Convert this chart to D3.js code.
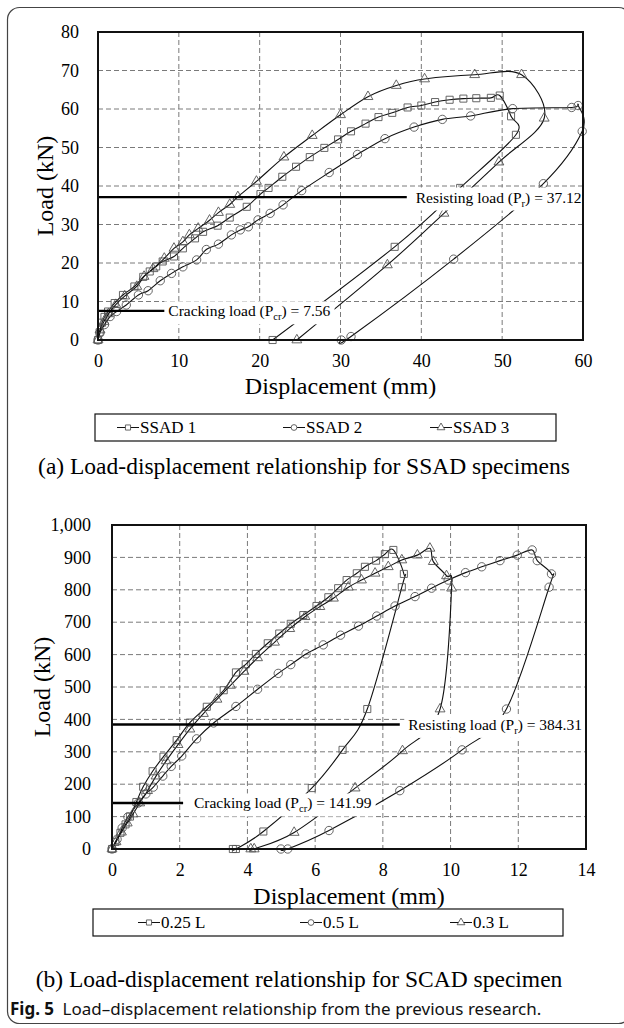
<!DOCTYPE html>
<html><head><meta charset="utf-8">
<script src="https://cdn.jsdelivr.net/npm/d3@7"></script>
<style>
body{margin:0;background:#fff;}
</style></head><body>
<svg id="fig" width="624" height="1028"></svg>
<script>
// ---------- (a) SSAD specimens ----------
const ssadXTicks = [0, 10, 20, 30, 40, 50, 60];
const ssadYTicks = [0, 10, 20, 30, 40, 50, 60, 70, 80];
const ssadNames = ["SSAD 1", "SSAD 2", "SSAD 3"];

const ssad1Disp = [0, 0.2, 0.5, 0.8, 1.24, 2.06, 3.09, 4.5, 5.6, 6.4, 7.2, 8.0, 9.4, 10.5, 12.0, 13.0, 14.8, 16.3, 18.4, 20.1, 21.1, 22.8, 24.5, 26.2, 28.0, 29.7, 31.3, 33.1, 34.7, 36.4, 38.3, 40.0, 41.7, 43.5, 45.2, 46.8, 48.6, 49.7, 51.1, 51.7, 44.8, 36.7, 21.6];
const ssad1Load = [0, 2.0, 4.5, 6.0, 7.4, 9.6, 11.7, 13.9, 16.4, 17.8, 19.1, 20.4, 21.7, 23.8, 26.4, 28.1, 29.7, 31.8, 34.6, 37.9, 39.5, 42.4, 45.0, 47.5, 49.9, 52.1, 54.2, 56.2, 57.9, 59.0, 60.4, 60.9, 61.8, 62.4, 62.7, 62.8, 62.9, 63.5, 58.1, 53.3, 39.5, 24.2, 0];

const ssad2Disp = [0, 0.25, 0.8, 1.5, 2.3, 3.5, 5.0, 6.2, 7.7, 9.1, 10.5, 12.2, 13.4, 14.9, 16.5, 17.6, 18.6, 19.8, 21.3, 22.9, 25.2, 28.6, 32.1, 35.5, 39.1, 42.6, 46.1, 51.3, 58.6, 59.4, 59.9, 55.1, 44.0, 31.3, 30.1];
const ssad2Load = [0, 1.9, 4.0, 6.1, 7.4, 9.1, 11.7, 12.8, 15.4, 17.3, 19.0, 20.8, 23.5, 24.9, 27.3, 28.6, 29.4, 31.2, 32.9, 35.1, 38.8, 43.5, 48.2, 52.3, 55.3, 57.3, 58.2, 60.1, 60.4, 60.9, 54.2, 40.6, 21.0, 0.9, 0];

const ssad3Disp = [0, 0.25, 0.74, 1.3, 2.2, 3.3, 4.8, 5.7, 6.8, 8.2, 9.4, 10.5, 11.3, 12.4, 13.8, 14.9, 16.3, 17.3, 19.6, 23.0, 26.5, 30.0, 33.4, 36.9, 40.4, 46.6, 52.4, 55.2, 49.6, 42.8, 35.8, 24.6];
const ssad3Load = [0, 2.6, 4.8, 6.8, 9.2, 11.4, 13.9, 16.5, 18.5, 21.2, 23.8, 25.5, 27.3, 29.0, 31.1, 33.1, 35.2, 37.2, 41.2, 47.5, 53.1, 58.5, 63.2, 66.1, 67.8, 68.9, 68.9, 57.6, 46.2, 32.9, 19.5, 0];

const ssadCracking = 7.56;
const ssadResisting = 37.12;

// ---------- (b) SCAD specimen ----------
const scadXTicks = [0, 2, 4, 6, 8, 10, 12, 14];
const scadYTicks = [0, 100, 200, 300, 400, 500, 600, 700, 800, 900, 1000];
const scadNames = ["0.25 L", "0.5 L", "0.3 L"];

const scad25Disp = [0, 0.1, 0.25, 0.4, 0.53, 0.72, 0.92, 1.2, 1.52, 1.91, 2.3, 2.8, 3.3, 3.66, 3.95, 4.25, 4.6, 4.94, 5.28, 5.65, 6.04, 6.39, 6.68, 6.93, 7.23, 7.47, 7.8, 8.06, 8.31, 8.62, 8.56, 7.54, 6.81, 5.9, 4.47, 3.66, 3.57];
const scad25Load = [0, 22, 50, 76, 100, 145, 192, 240, 285, 336, 390, 439, 490, 545, 570, 602, 635, 665, 695, 722, 750, 777, 805, 830, 851, 871, 890, 910, 923, 849, 808, 432, 306, 188, 54, 0, 0];

const scad50Disp = [0, 0.15, 0.3, 0.47, 0.78, 1.0, 1.22, 1.5, 1.75, 2.06, 2.5, 3.0, 3.66, 4.3, 4.91, 5.28, 5.73, 6.24, 6.75, 7.28, 7.82, 8.36, 8.95, 9.44, 9.93, 10.44, 10.92, 11.46, 11.97, 12.41, 12.56, 12.98, 12.91, 11.65, 10.34, 8.5, 6.41, 5.19, 4.99];
const scad50Load = [0, 30, 65, 99, 142, 170, 191, 225, 255, 287, 340, 389, 440, 493, 542, 569, 602, 630, 660, 688, 719, 750, 779, 805, 830, 853, 871, 890, 907, 923, 890, 849, 808, 432, 306, 180, 57, 0, 0];

const scad30Disp = [0, 0.12, 0.28, 0.45, 0.62, 0.82, 1.05, 1.3, 1.6, 1.95, 2.3, 2.7, 3.1, 3.5, 3.9, 4.3, 4.8, 5.25, 5.7, 6.14, 6.54, 6.98, 7.37, 7.77, 8.16, 8.56, 9.02, 9.39, 9.49, 9.88, 10.03, 9.69, 8.58, 7.18, 5.38, 4.2, 4.1];
const scad30Load = [0, 22, 52, 80, 108, 142, 180, 225, 272, 322, 370, 418, 462, 505, 548, 590, 638, 680, 717, 748, 774, 808, 830, 851, 871, 892, 907, 928, 887, 843, 805, 432, 303, 188, 51, 0, 0];

const scadCracking = 141.99;
const scadResisting = 384.31;

// ---------- drawing ----------
const SERIF = "'Liberation Serif', 'Times New Roman', serif";
const SANS = "'Noto Sans', 'DejaVu Sans', sans-serif";

const svg = d3.select("#fig");
svg.append("rect").attr("width", 624).attr("height", 1028).attr("fill", "#fff");

// figure frame (rounded, runs off the right edge)
svg.append("rect")
  .attr("x", 7.5).attr("y", 7.5).attr("width", 623).attr("height", 1016)
  .attr("rx", 12).attr("ry", 12)
  .attr("fill", "none").attr("stroke", "#444").attr("stroke-width", 1.2);

function serifText(sel, size) {
  return sel.style("font-family", SERIF).attr("font-size", size).attr("fill", "#000");
}

function drawPanel(cfg) {
  const b = cfg.box;
  const x = d3.scaleLinear().domain([cfg.xTicks[0], cfg.xTicks[cfg.xTicks.length - 1]]).range([b.left, b.right]);
  const y = d3.scaleLinear().domain([cfg.yTicks[0], cfg.yTicks[cfg.yTicks.length - 1]]).range([b.bottom, b.top]);
  const g = svg.append("g");

  // dashed grid
  g.append("g").selectAll("line").data(cfg.xTicks.slice(1, -1)).join("line")
    .attr("x1", d => x(d)).attr("x2", d => x(d)).attr("y1", b.top).attr("y2", b.bottom)
    .attr("stroke", "#7a7a7a").attr("stroke-width", 1).attr("stroke-dasharray", "5,3");
  g.append("g").selectAll("line").data(cfg.yTicks.slice(1, -1)).join("line")
    .attr("y1", d => y(d)).attr("y2", d => y(d)).attr("x1", b.left).attr("x2", b.right)
    .attr("stroke", "#7a7a7a").attr("stroke-width", 1).attr("stroke-dasharray", "5,3");

  // curves with markers
  const line = d3.line().x(d => x(d[0])).y(d => y(d[1])).curve(d3.curveCardinal.tension(0));
  cfg.series.forEach(s => {
    const pts = d3.zip(s.disp, s.load);
    g.append("path").datum(pts).attr("d", line)
      .attr("fill", "none").attr("stroke", "#111").attr("stroke-width", 1.1);
    g.append("g").selectAll("path").data(pts).join("path")
      .attr("transform", d => `translate(${x(d[0])},${y(d[1])})`)
      .attr("d", d3.symbol(s.symbol, s.size))
      .attr("fill", "none").attr("stroke", "#555").attr("stroke-width", 0.9);
  });

  // reference load levels with labels
  cfg.levels.forEach(lv => {
    g.append("line")
      .attr("x1", x(cfg.xTicks[0])).attr("x2", x(lv.lineTo))
      .attr("y1", y(lv.value)).attr("y2", y(lv.value))
      .attr("stroke", "#000").attr("stroke-width", 2.4);
    const bg = g.append("rect").attr("fill", "#fff");
    const t = serifText(g.append("text"), 15.5)
      .attr("x", x(lv.textAt)).attr("y", y(lv.value)).attr("dy", "0.35em");
    t.append("tspan").text(lv.label + " (P");
    t.append("tspan").attr("font-size", 10.5).attr("dy", 4).text(lv.sub);
    t.append("tspan").attr("dy", -4).text(") = " + d3.format(".2f")(lv.value));
    const bb = t.node().getBBox();
    bg.attr("x", bb.x - 4).attr("y", bb.y - 1).attr("width", bb.width + 8).attr("height", bb.height + 3);
  });

  // plot frame
  g.append("rect")
    .attr("x", b.left).attr("y", b.top).attr("width", b.right - b.left).attr("height", b.bottom - b.top)
    .attr("fill", "none").attr("stroke", "#111").attr("stroke-width", 2);

  // axes (labels only)
  const ax = g.append("g").attr("transform", `translate(0,${b.bottom})`)
    .call(d3.axisBottom(x).tickValues(cfg.xTicks).tickSize(0).tickPadding(14).tickFormat(d3.format("d")));
  const ay = g.append("g").attr("transform", `translate(${b.left},0)`)
    .call(d3.axisLeft(y).tickValues(cfg.yTicks).tickSize(0).tickPadding(cfg.yPad).tickFormat(cfg.yFormat));
  [ax, ay].forEach(a => {
    a.select(".domain").remove();
    a.attr("font-family", null).attr("font-size", null);
    serifText(a.selectAll("text"), 18);
  });

  // axis titles
  serifText(g.append("text"), 24).attr("x", (b.left + b.right) / 2).attr("y", cfg.xTitleY)
    .attr("text-anchor", "middle").attr("dy", "0.35em").text("Displacement (mm)");
  serifText(g.append("text"), 24)
    .attr("transform", `translate(${cfg.yTitleX},${(b.top + b.bottom) / 2}) rotate(-90)`)
    .attr("text-anchor", "middle").attr("dy", "0.35em").text("Load (kN)");

  // legend
  const lg = g.append("g");
  lg.append("rect").attr("x", cfg.legend.x).attr("y", cfg.legend.y)
    .attr("width", cfg.legend.w).attr("height", cfg.legend.h)
    .attr("fill", "#fff").attr("stroke", "#111").attr("stroke-width", 1.2);
  const cy = cfg.legend.y + cfg.legend.h / 2;
  cfg.series.forEach((s, i) => {
    const x0 = cfg.legend.items[i];
    lg.append("line").attr("x1", x0).attr("x2", x0 + 22).attr("y1", cy).attr("y2", cy)
      .attr("stroke", "#111").attr("stroke-width", 1);
    lg.append("path").attr("transform", `translate(${x0 + 11},${cy})`)
      .attr("d", d3.symbol(s.symbol, 26)).attr("fill", "#fff").attr("stroke", "#555").attr("stroke-width", 0.9);
    serifText(lg.append("text"), 17).attr("x", x0 + 23).attr("y", cy).attr("dy", "0.35em").text(s.name);
  });

  // panel caption
  serifText(g.append("text"), 23.5).attr("x", cfg.captionX).attr("y", cfg.captionY).attr("dy", "0.35em")
    .attr("text-anchor", "middle").text(cfg.caption);
}

drawPanel({
  box: { left: 98, right: 583, top: 32, bottom: 340 },
  xTicks: ssadXTicks, yTicks: ssadYTicks, yFormat: d3.format("d"), yPad: 19,
  series: [
    { name: ssadNames[0], disp: ssad1Disp, load: ssad1Load, symbol: d3.symbolSquare, size: 50 },
    { name: ssadNames[1], disp: ssad2Disp, load: ssad2Load, symbol: d3.symbolCircle, size: 55 },
    { name: ssadNames[2], disp: ssad3Disp, load: ssad3Load, symbol: d3.symbolTriangle, size: 42 }
  ],
  levels: [
    { value: ssadResisting, lineTo: 38.2, textAt: 39.3, label: "Resisting load", sub: "r" },
    { value: ssadCracking, lineTo: 8.5, textAt: 8.7, label: "Cracking load", sub: "cr" }
  ],
  xTitleY: 386, yTitleX: 45,
  legend: { x: 95, y: 414, w: 461, h: 27, items: [117, 283, 430] },
  captionX: 304, captionY: 466,
  caption: "(a) Load-displacement relationship for SSAD specimens"
});

drawPanel({
  box: { left: 112, right: 586, top: 525, bottom: 849 },
  xTicks: scadXTicks, yTicks: scadYTicks, yFormat: d3.format(","), yPad: 21,
  series: [
    { name: scadNames[0], disp: scad25Disp, load: scad25Load, symbol: d3.symbolSquare, size: 50 },
    { name: scadNames[1], disp: scad50Disp, load: scad50Load, symbol: d3.symbolCircle, size: 55 },
    { name: scadNames[2], disp: scad30Disp, load: scad30Load, symbol: d3.symbolTriangle, size: 42 }
  ],
  levels: [
    { value: scadResisting, lineTo: 8.5, textAt: 8.75, label: "Resisting load", sub: "r" },
    { value: scadCracking, lineTo: 2.1, textAt: 2.42, label: "Cracking load", sub: "cr" }
  ],
  xTitleY: 896, yTitleX: 42,
  legend: { x: 93, y: 909, w: 470, h: 27, items: [138, 300, 450] },
  captionX: 299, captionY: 979,
  caption: "(b) Load-displacement relationship for SCAD specimen"
});

// figure caption
const fc = svg.append("text").attr("x", 10).attr("y", 1009).attr("dy", "0.35em")
  .style("font-family", SANS).attr("font-size", 17).attr("fill", "#111");
fc.append("tspan").attr("font-weight", "bold").text("Fig. 5");
fc.append("tspan").text("\u2002Load\u2013displacement relationship from the previous research.");
</script>
</body></html>
